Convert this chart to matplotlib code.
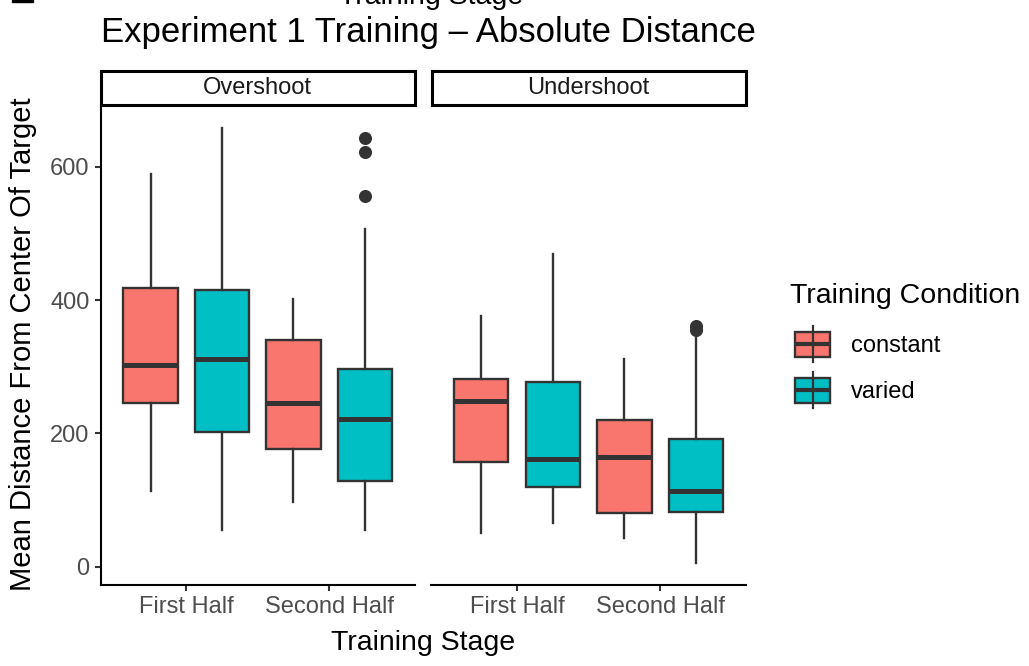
import matplotlib
matplotlib.use("Agg")
import matplotlib.pyplot as plt
from matplotlib.patches import Rectangle
from matplotlib.lines import Line2D

plt.rcParams["font.family"] = ["Liberation Sans", "DejaVu Sans"]

# data (box stats per panel / stage / condition)
panels = ["Overshoot", "Undershoot"]
stages = ["First Half", "Second Half"]
conditions = ["constant", "varied"]
cond_colors = {"constant": "#F8766D", "varied": "#00BFC4"}

# order: (First Half constant, First Half varied, Second Half constant, Second Half varied)
over_whislo = [114, 55, 97, 55]
over_q1 = [245, 202, 176, 128]
over_med = [302, 311, 245, 222]
over_q3 = [418, 416, 341, 296]
over_whishi = [589, 658, 402, 507]
over_fliers = [[], [], [], [556, 623, 643]]

under_whislo = [51, 65, 43, 5]
under_q1 = [157, 120, 81, 82]
under_med = [248, 162, 165, 114]
under_q3 = [281, 277, 220, 191]
under_whishi = [376, 469, 311, 350]
under_fliers = [[], [], [], [355, 361]]

y_ticks = [0, 200, 400, 600]

W, H = 1029, 666
EDGE = "#333333"
TICKCOL = "#4D4D4D"

fig = plt.figure(figsize=(W / 100, H / 100), dpi=100)


def px_rect(x0, y0, x1, y1):
    # pixel box (top-origin) -> figure fraction rect
    return [x0 / W, (H - y1) / H, (x1 - x0) / W, (y1 - y0) / H]


def make_stats(whislo, q1, med, q3, whishi, fliers):
    out = []
    for i in range(len(med)):
        out.append({"whislo": whislo[i], "q1": q1[i], "med": med[i],
                    "q3": q3[i], "whishi": whishi[i], "fliers": fliers[i]})
    return out


panel_stats = [
    make_stats(over_whislo, over_q1, over_med, over_q3, over_whishi, over_fliers),
    make_stats(under_whislo, under_q1, under_med, under_q3, under_whishi, under_fliers),
]
panel_x = [(100.5, 415), (431, 746)]
top_px, bot_px = 107, 585

positions = []
colors = []
for s in range(len(stages)):
    for c in conditions:
        positions.append(s + 1 + (-0.25 if c == "constant" else 0.25))
        colors.append(cond_colors[c])

for p, (name, stats) in enumerate(zip(panels, panel_stats)):
    x0, x1 = panel_x[p]
    ax = fig.add_axes(px_rect(x0, top_px, x1, bot_px))
    bp = ax.bxp(stats, positions=positions, widths=0.38, patch_artist=True,
                showcaps=False,
                boxprops=dict(edgecolor=EDGE, linewidth=1.7),
                whiskerprops=dict(color=EDGE, linewidth=1.7),
                medianprops=dict(color=EDGE, linewidth=3.6, solid_capstyle="butt"),
                flierprops=dict(marker="o", markerfacecolor=EDGE, markeredgecolor=EDGE,
                                markersize=8.4))
    for box, col in zip(bp["boxes"], colors):
        box.set_facecolor(col)
    ax.set_xlim(0.4, 2.6)
    ax.set_ylim(-27.5, 690)
    ax.set_xticks([1, 2])
    ax.set_xticklabels(stages)
    ax.set_yticks(y_ticks)
    for sp in ["top", "right"]:
        ax.spines[sp].set_visible(False)
    ax.spines["bottom"].set_linewidth(1.5)
    ax.spines["left"].set_linewidth(1.5)
    ax.tick_params(axis="both", colors=EDGE, labelcolor=TICKCOL, labelsize=17,
                   length=4.5, width=1.5, pad=3.5)
    if p > 0:
        ax.spines["left"].set_visible(False)
        ax.tick_params(axis="y", left=False, labelleft=False)

    # facet strip
    sax = fig.add_axes(px_rect(x0 + 0.5, 71, x1 - 0.5, 105))
    sax.set_xticks([])
    sax.set_yticks([])
    for sp in sax.spines.values():
        sp.set_linewidth(2.2)
        sp.set_color("black")
    sax.text(0.5, 0.5, name, ha="center", va="center", fontsize=17,
             color="#1A1A1A", transform=sax.transAxes)

# titles and axis labels
fig.text(101 / W, (H - 42) / H, "Experiment 1 Training \u2013 Absolute Distance",
         ha="left", va="baseline", fontsize=25, color="black")
fig.text(431 / W, (H - 4) / H, "Training Stage", ha="center", va="baseline",
         fontsize=20.5, color="black")
fig.text(423.5 / W, (H - 650) / H, "Training Stage", ha="center", va="baseline",
         fontsize=20.5, color="black")
fig.text(23 / W, (H - 344.5) / H, "Mean Distance From Center Of Target",
         ha="center", va="center", rotation=90, fontsize=21, color="black")

# small clipped mark at the top-left corner
fig.add_artist(Rectangle((12 / W, 1 - 1.5 / H), 21 / W, 1.5 / H,
                         transform=fig.transFigure, color="black"))

# legend drawn in pixel coordinates
lax = fig.add_axes(px_rect(780, 260, W, 420))
lax.set_xlim(780, W)
lax.set_ylim(420, 260)
lax.axis("off")
lax.text(790, 303, "Training Condition", ha="left", va="baseline", fontsize=20.5,
         color="black")
key_y = [344, 390]
for c, yc in zip(conditions, key_y):
    lax.add_line(Line2D([813, 813], [yc - 18, yc + 18], color=EDGE, linewidth=1.6))
    lax.add_patch(Rectangle((795.5, yc - 12.5), 35, 25, facecolor=cond_colors[c],
                            edgecolor=EDGE, linewidth=1.7))
    lax.add_line(Line2D([795.5, 830.5], [yc, yc], color=EDGE, linewidth=3.0,
                        solid_capstyle="butt"))
    lax.text(851, yc + 2, c, ha="left", va="center", fontsize=17, color="black")

fig.savefig("out.png", dpi=100)
